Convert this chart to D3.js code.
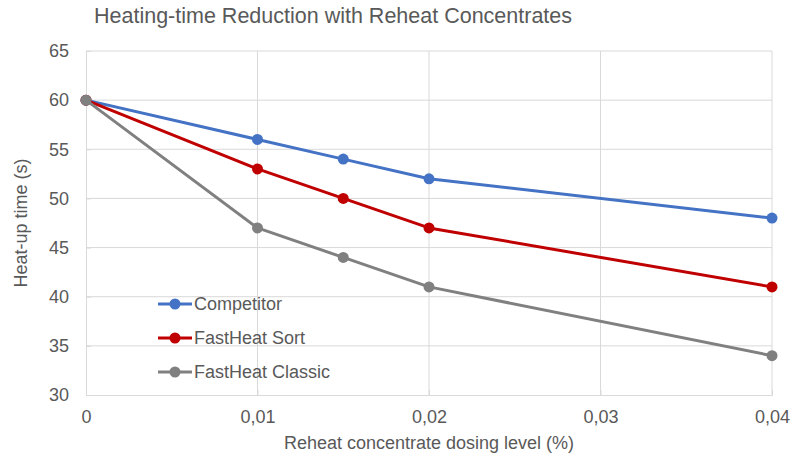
<!DOCTYPE html>
<html>
<head>
<meta charset="utf-8">
<script src="https://d3js.org/d3.v7.min.js"></script>
<style>
  body { margin: 0; background: #fff; }
  svg { font-family: "Liberation Sans", Arial, sans-serif; }
</style>
</head>
<body>
<div id="chart"></div>
<script>
// datos del gráfico
const dosing = [0, 0.01, 0.015, 0.02, 0.04];
const competitor = [60, 56, 54, 52, 48];
const fastHeatSort = [60, 53, 50, 47, 41];
const fastHeatClassic = [60, 47, 44, 41, 34];
const seriesNames = ["Competitor", "FastHeat Sort", "FastHeat Classic"];
const seriesColors = ["#4472C4", "#C00000", "#808080"];
const xTicks = [0, 0.01, 0.02, 0.03, 0.04];
const yTicks = [30, 35, 40, 45, 50, 55, 60, 65];

const width = 791, height = 455;
const margin = { top: 51, right: 19, bottom: 60, left: 86 };

const svg = d3.select("#chart").append("svg")
  .attr("width", width)
  .attr("height", height);

const x = d3.scaleLinear().domain([0, 0.04]).range([margin.left, width - margin.right]);
const y = d3.scaleLinear().domain([30, 65]).range([height - margin.bottom, margin.top]);

const fmt = d => d === 0 ? "0" : d3.format(".2f")(d).replace(".", ",");

// rejilla
svg.append("g").selectAll("line").data(yTicks.slice(1)).enter().append("line")
  .attr("x1", x(0)).attr("x2", x(0.04))
  .attr("y1", d => y(d)).attr("y2", d => y(d))
  .attr("stroke", "#d9d9d9").attr("stroke-width", 1);
svg.append("g").selectAll("line").data(xTicks.slice(1)).enter().append("line")
  .attr("x1", d => x(d)).attr("x2", d => x(d))
  .attr("y1", y(30)).attr("y2", y(65))
  .attr("stroke", "#d9d9d9").attr("stroke-width", 1);

// ejes
const xAxis = svg.append("g")
  .attr("transform", `translate(0,${y(30)})`)
  .call(d3.axisBottom(x).tickValues(xTicks).tickFormat(fmt).tickSize(-5).tickPadding(15));
const yAxis = svg.append("g")
  .attr("transform", `translate(${x(0)},0)`)
  .call(d3.axisLeft(y).tickValues(yTicks).tickSize(-5).tickPadding(17));
[xAxis, yAxis].forEach(g => {
  g.select(".domain").attr("stroke", "#d9d9d9");
  g.selectAll(".tick line").attr("stroke", "#d9d9d9");
  g.selectAll(".tick text").attr("fill", "#595959").attr("font-size", 18)
    .attr("font-family", "Liberation Sans, Arial, sans-serif");
});

// series
const allSeries = [competitor, fastHeatSort, fastHeatClassic];
const line = d3.line().x((d, i) => x(dosing[i])).y(d => y(d));
allSeries.forEach((s, k) => {
  svg.append("path").datum(s)
    .attr("d", line)
    .attr("fill", "none")
    .attr("stroke", seriesColors[k])
    .attr("stroke-width", 3)
    .attr("stroke-linejoin", "round");
  svg.append("g").selectAll("circle").data(s).enter().append("circle")
    .attr("cx", (d, i) => x(dosing[i]))
    .attr("cy", d => y(d))
    .attr("r", 5.5)
    .attr("fill", seriesColors[k]);
});

// leyenda
const legend = svg.append("g");
seriesNames.forEach((name, k) => {
  const ly = 304 + k * 34;
  legend.append("line").attr("x1", 158).attr("x2", 192).attr("y1", ly).attr("y2", ly)
    .attr("stroke", seriesColors[k]).attr("stroke-width", 3);
  legend.append("circle").attr("cx", 175).attr("cy", ly).attr("r", 5.5).attr("fill", seriesColors[k]);
  legend.append("text").attr("x", 194).attr("y", ly).attr("dy", "0.35em")
    .attr("font-size", 18).attr("fill", "#595959").text(name);
});

// títulos
svg.append("text").attr("x", 94).attr("y", 23)
  .attr("font-size", 21.5).attr("fill", "#595959")
  .text("Heating-time Reduction with Reheat Concentrates");
svg.append("text").attr("x", (x(0) + x(0.04)) / 2).attr("y", 449)
  .attr("text-anchor", "middle").attr("font-size", 18).attr("fill", "#595959")
  .text("Reheat concentrate dosing level (%)");
svg.append("text")
  .attr("transform", `translate(27,${(y(30) + y(65)) / 2}) rotate(-90)`)
  .attr("text-anchor", "middle").attr("font-size", 18).attr("fill", "#595959")
  .text("Heat-up time (s)");
</script>
</body>
</html>
